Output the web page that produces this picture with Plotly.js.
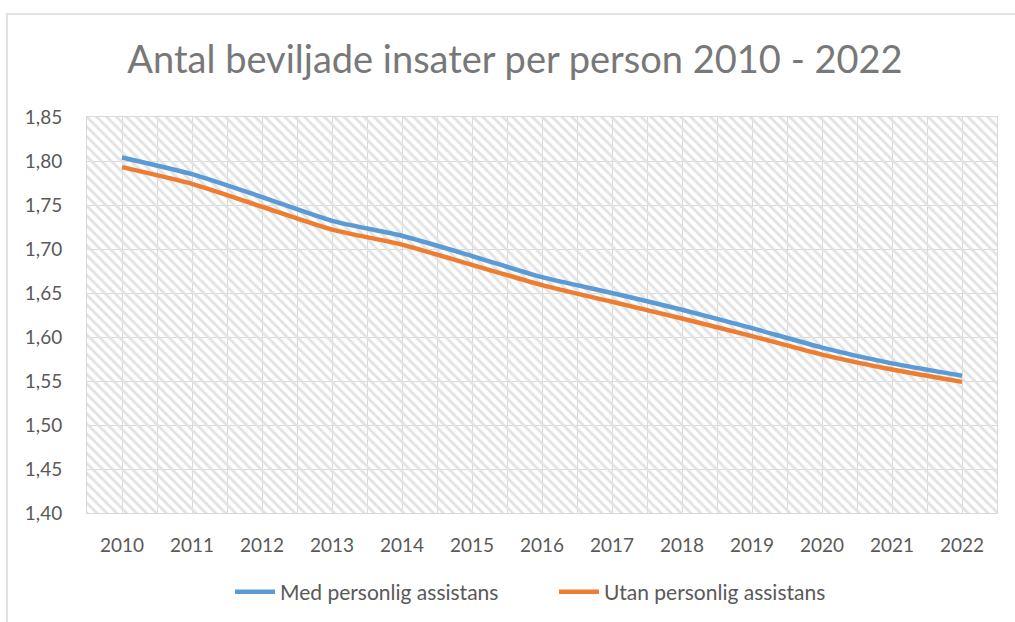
<!DOCTYPE html>
<html>
<head>
<meta charset="utf-8">
<script src="https://cdn.plot.ly/plotly-3.0.1.min.js"></script>
<style>html,body{margin:0;padding:0;background:#fff;}#chart{width:1015px;height:622px;}</style>
</head>
<body>
<div id="chart"></div>
<script>
const years = [2010, 2011, 2012, 2013, 2014, 2015, 2016, 2017, 2018, 2019, 2020, 2021, 2022];
const medPersonlig = [1.804, 1.785, 1.759, 1.732, 1.715, 1.692, 1.668, 1.650, 1.631, 1.610, 1.588, 1.570, 1.556];
const utanPersonlig = [1.793, 1.774, 1.748, 1.722, 1.705, 1.682, 1.659, 1.640, 1.621, 1.601, 1.580, 1.563, 1.549];
const yTicks = [1.40, 1.45, 1.50, 1.55, 1.60, 1.65, 1.70, 1.75, 1.80, 1.85];
const seriesNames = ['Med personlig assistans', 'Utan personlig assistans'];
const titleText = 'Antal beviljade insater per person 2010 - 2022';

const xMin = years[0] - 0.5, xMax = years[years.length - 1] + 0.5;
const yMin = yTicks[0], yMax = yTicks[yTicks.length - 1];

const FONT = 'Lato, "Open Sans", sans-serif';
const GRAY = '#595959';

const hatch = {
  x: [xMin, xMax, xMax, xMin, xMin],
  y: [yMin, yMin, yMax, yMax, yMin],
  mode: 'lines', line: {width: 0}, fill: 'toself',
  fillcolor: 'rgba(0,0,0,0)',
  fillpattern: {shape: '\\', size: 7, solidity: 0.4, fgcolor: '#e2e2e2', bgcolor: 'rgba(0,0,0,0)'},
  showlegend: false, hoverinfo: 'skip'
};

const traces = [
  hatch,
  {x: years, y: medPersonlig, name: seriesNames[0], mode: 'lines',
   line: {color: '#5B9BD5', width: 4.5, shape: 'spline', smoothing: 0.6}},
  {x: years, y: utanPersonlig, name: seriesNames[1], mode: 'lines',
   line: {color: '#ED7D31', width: 4.5, shape: 'spline', smoothing: 0.6}}
];

const L = 87, R = 997, T = 117, B = 513, W = 1015, H = 622;
const px = v => (v - L) / (R - L);
const py = v => (B - v) / (B - T);

const layout = {
  width: W, height: H,
  margin: {l: L, r: W - R, t: T, b: H - B, pad: 0, autoexpand: false},
  paper_bgcolor: '#fff', plot_bgcolor: '#fff',
  separators: ', ',
  font: {family: FONT, color: GRAY, size: 18},
  title: {text: titleText, font: {family: FONT, size: 38, color: '#787878'},
          x: 515 / W, xref: 'container', xanchor: 'center', y: 1 - 60 / H, yref: 'container', yanchor: 'middle'},
  xaxis: {
    range: [xMin, xMax], tickvals: years, ticktext: years.map(String),
    showgrid: true, gridcolor: '#D9D9D9', gridwidth: 1,
    minor: {tick0: xMin, dtick: 0.5, showgrid: true, gridcolor: '#D9D9D9', gridwidth: 1, ticks: ''},
    showline: true, linecolor: '#D9D9D9', linewidth: 1, mirror: true,
    zeroline: false, ticks: '', ticklabelstandoff: 15, tickangle: 0, automargin: false,
    tickfont: {family: FONT, size: 19, color: GRAY}, fixedrange: true
  },
  yaxis: {
    range: [yMin, yMax], tickvals: yTicks, tickformat: '.2f',
    showgrid: true, gridcolor: '#D9D9D9', gridwidth: 1,
    showline: true, linecolor: '#D9D9D9', linewidth: 1, mirror: true,
    zeroline: false, ticks: '', ticklabelstandoff: 20, automargin: false,
    tickfont: {family: FONT, size: 19, color: GRAY}, fixedrange: true
  },
  legend: {orientation: 'h', x: px(554), xanchor: 'center', y: py(592), yanchor: 'middle',
           font: {family: FONT, size: 21, color: GRAY}, itemwidth: 40, traceorder: 'normal',
           entrywidth: 269, entrywidthmode: 'pixels'},
  shapes: [
    {type: 'line', xref: 'paper', yref: 'paper', x0: px(6), x1: px(1015), y0: py(14), y1: py(14),
     line: {color: '#D9D9D9', width: 1.5}},
    {type: 'line', xref: 'paper', yref: 'paper', x0: px(7), x1: px(7), y0: py(14), y1: py(622),
     line: {color: '#D9D9D9', width: 1.5}}
  ]
};

Plotly.newPlot('chart', traces, layout, {displayModeBar: false, staticPlot: true});
</script>
</body>
</html>
